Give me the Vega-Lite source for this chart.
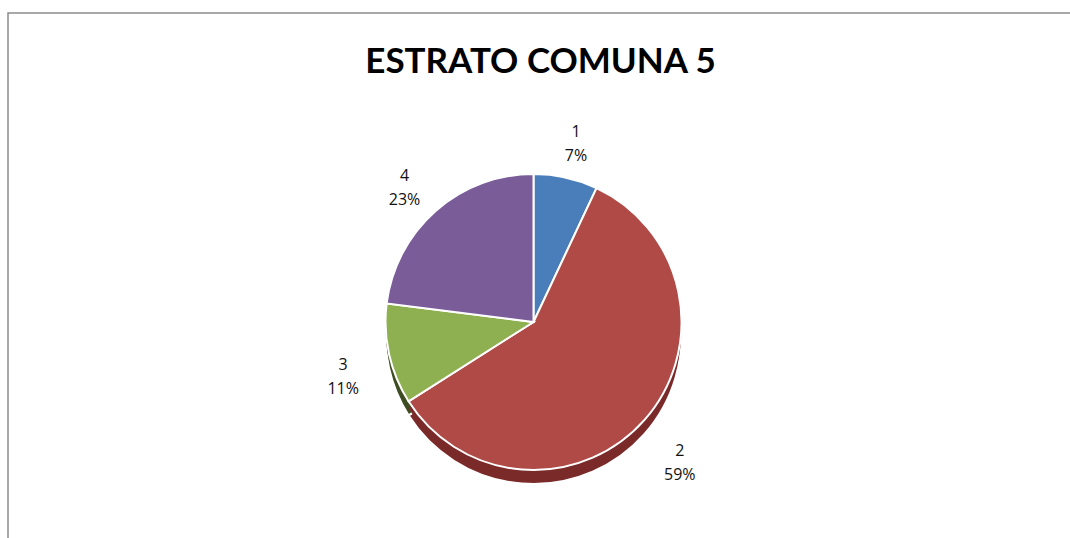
{
  "$schema": "https://vega.github.io/schema/vega-lite/v6.json",
  "autosize": {"type": "fit", "contains": "padding"},
  "width": 1070,
  "height": 538,
  "padding": {"left": 7, "top": 12, "right": -4, "bottom": -4},
  "background": "white",
  "title": {
    "text": "ESTRATO COMUNA 5",
    "font": "Lato",
    "fontSize": 35,
    "fontWeight": "bold",
    "color": "#000000",
    "anchor": "middle",
    "baseline": "alphabetic",
    "offset": -96
  },
  "layer": [
    {
      "data": {"values": [{"frame": "frame"}]},
      "mark": {"type": "rect", "fill": "white", "fillOpacity": 0, "stroke": "#8c8c8c", "strokeWidth": 1.5},
      "encoding": {}
    },
    {
      "data": {
        "values": [
          {"estrato": "1", "pct": 7, "label": "1\n7%"},
          {"estrato": "2", "pct": 59, "label": "2\n59%"},
          {"estrato": "3", "pct": 11, "label": "3\n11%"},
          {"estrato": "4", "pct": 23, "label": "4\n23%"}
        ]
      },
      "encoding": {
        "theta": {"field": "pct", "type": "quantitative", "stack": true},
        "order": {"field": "estrato", "type": "nominal", "sort": "ascending"}
      },
      "layer": [
        {
          "mark": {"type": "arc", "radius": 148, "xOffset": -7, "yOffset": 59, "stroke": "white", "strokeWidth": 2},
          "encoding": {
            "color": {
              "field": "estrato", "type": "nominal", "legend": null,
              "scale": {"domain": ["1", "2", "3", "4"], "range": ["#2f5a8c", "#7a2a28", "#3f4d22", "#3b2d55"]}
            }
          }
        },
        {
          "mark": {"type": "arc", "radius": 148, "xOffset": -7, "yOffset": 52},
          "encoding": {
            "color": {
              "field": "estrato", "type": "nominal", "legend": null,
              "scale": {"domain": ["1", "2", "3", "4"], "range": ["#2f5a8c", "#7a2a28", "#3f4d22", "#3b2d55"]}
            }
          }
        },
        {
          "mark": {"type": "arc", "radius": 148, "xOffset": -7, "yOffset": 45, "stroke": "white", "strokeWidth": 2},
          "encoding": {
            "color": {
              "field": "estrato", "type": "nominal", "legend": null,
              "scale": {"domain": ["1", "2", "3", "4"], "range": ["#4a7ebb", "#b04a47", "#8fb050", "#7a5c99"]}
            }
          }
        },
        {
          "mark": {"type": "text", "radius": 195, "xOffset": -7, "yOffset": 45, "font": "Open Sans", "fontSize": 16, "fill": "#111111", "lineBreak": "\n", "lineHeight": 24},
          "encoding": {
            "text": {"field": "label", "type": "nominal"}
          }
        }
      ],
      "resolve": {"scale": {"color": "independent"}}
    }
  ],
  "resolve": {"scale": {"color": "independent"}}
}
